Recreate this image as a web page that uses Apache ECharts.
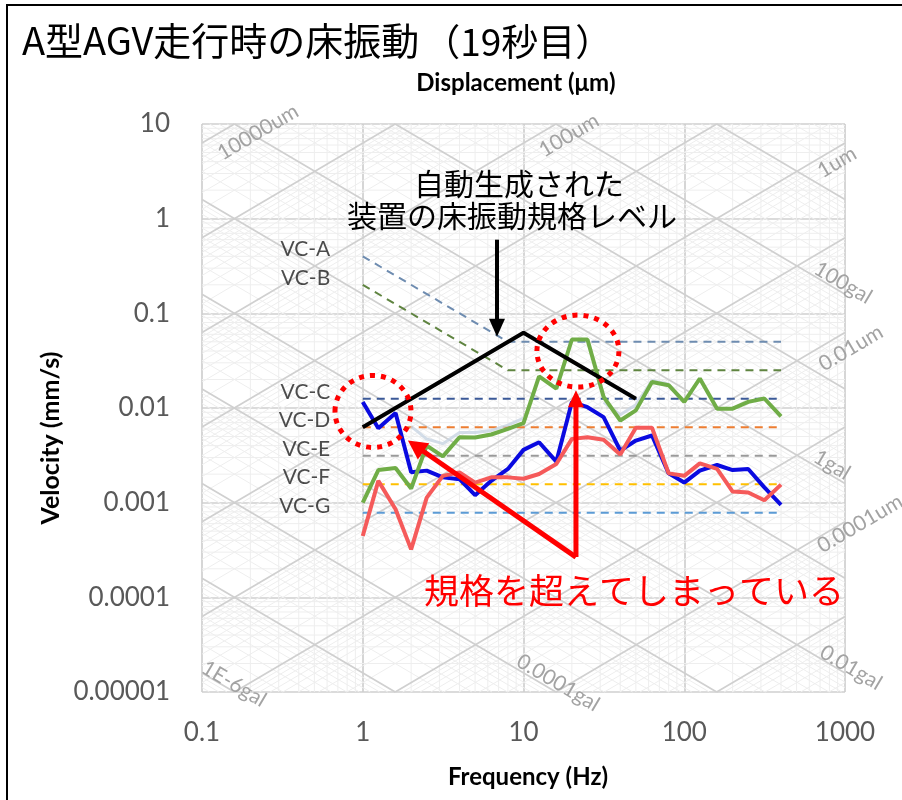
<!DOCTYPE html>
<html>
<head>
<meta charset="utf-8">
<script src="https://cdn.jsdelivr.net/npm/echarts@6/dist/echarts.min.js"></script>
<style>
  html, body { margin: 0; padding: 0; background: #fff; }
  #main { width: 902px; height: 800px; }
</style>
</head>
<body>
<div id="main"></div>
<script>
// 1/3オクターブバンド中心周波数
var freqs = [1, 1.25, 1.6, 2, 2.5, 3.15, 4, 5, 6.3, 8, 10, 12.5, 16, 20, 25, 31.5, 40, 50, 63, 80, 100, 125, 160, 200, 250, 315, 400];
var greenVals = [0.00100, 0.00221, 0.00232, 0.00141, 0.00401, 0.00308, 0.00491, 0.00488, 0.00525, 0.00603, 0.00692, 0.0216, 0.0160, 0.0529, 0.0529, 0.0131, 0.00738, 0.00944, 0.0188, 0.0174, 0.0116, 0.0205, 0.00984, 0.00984, 0.0116, 0.0126, 0.00815];
var blueVals = [0.0116, 0.00612, 0.00883, 0.00209, 0.00218, 0.00185, 0.00177, 0.00120, 0.00170, 0.00227, 0.00361, 0.00435, 0.00271, 0.0116, 0.0102, 0.00800, 0.00355, 0.00453, 0.00512, 0.00204, 0.00163, 0.00218, 0.00250, 0.00221, 0.00227, 0.00145, 0.00095];
var redVals = [0.000445, 0.00170, 0.000853, 0.000321, 0.00113, 0.00192, 0.00209, 0.00163, 0.00185, 0.00185, 0.00179, 0.00201, 0.00256, 0.00472, 0.00491, 0.00461, 0.00322, 0.00618, 0.00618, 0.00204, 0.00192, 0.00260, 0.00227, 0.00131, 0.00128, 0.00106, 0.00155];
var shadowVals = [null, null, null, 0.0064, 0.0047, 0.0042, 0.0055, 0.0055, 0.0058, 0.0066, 0.0078, null, null, null, null, 0.0115, 0.0085, 0.0108, 0.0195, 0.0178, null, null, null, null, null, null, null];

// 自動生成された装置の床振動規格レベル
var specFreqs = [1, 10, 50];
var specVals = [0.00625, 0.0625, 0.0125];

// VC基準線
var vcNames = ['VC-A', 'VC-B', 'VC-C', 'VC-D', 'VC-E', 'VC-F', 'VC-G'];
var vcStartVals = [0.4, 0.2, 0.0125, 0.00625, 0.003125, 0.0015625, 0.00078125];
var vcLevels = [0.05, 0.025, 0.0125, 0.00625, 0.003125, 0.0015625, 0.00078125];
var vcColors = ['#6e8cb0', '#5f8440', '#3b5998', '#ed7d31', '#9a9a9a', '#ffc000', '#5b9bd5'];
var vcKneeFreq = 8;
var vcStartFreq = 1;
var vcEndFreq = 400;

var xTickLabels = ['0.1', '1', '10', '100', '1000'];
var yTickLabels = ['0.00001', '0.0001', '0.001', '0.01', '0.1', '1', '10'];

// 三軸グリッドのラベル (変位 um / 加速度 gal)
var dispLabelTexts = ['10000um', '100um', '1um', '0.01um', '0.0001um'];
var dispLabelAnchors = [[0.223, 8.2], [19.2, 7.6], [891, 3.95], [1089, 0.043], [1240, 0.0006]];
var accLabelTexts = ['100gal', '1gal', '0.01gal', '0.0001gal', '1E-6gal'];
var accLabelAnchors = [[973, 0.21], [830, 0.0025], [1089, 0.0000181], [16.4, 0.0000125], [0.158, 0.0000122]];

var chart = echarts.init(document.getElementById('main'));

var LF_MIN = -1, LF_MAX = 3, LV_MIN = -5, LV_MAX = 1;

/**
 * 三軸グリッド線（変位一定・加速度一定・補助目盛）
 */
function buildGridSegs() {
  var minor = [], major = [];
  var e, m, k;
  for (e = LF_MIN; e < LF_MAX; e++) {
    for (m = 2; m < 10; m++) {
      var f = m * Math.pow(10, e);
      minor.push([f, Math.pow(10, LV_MIN), f, Math.pow(10, LV_MAX), 0]);
    }
  }
  for (e = LV_MIN; e < LV_MAX; e++) {
    for (m = 2; m < 10; m++) {
      var v = m * Math.pow(10, e);
      minor.push([Math.pow(10, LF_MIN), v, Math.pow(10, LF_MAX), v, 0]);
    }
  }
  // 変位一定: v(mm/s) = 2πf・d(um)/1000
  for (k = -7; k <= 5; k++) {
    for (m = 1; m < 10; m++) {
      var d = m * Math.pow(10, k);
      var c = Math.log10(2 * Math.PI * d / 1000);
      var a1 = Math.max(LF_MIN, LV_MIN - c), a2 = Math.min(LF_MAX, LV_MAX - c);
      if (a2 > a1) {
        (m === 1 ? major : minor).push([Math.pow(10, a1), Math.pow(10, a1 + c), Math.pow(10, a2), Math.pow(10, a2 + c), m === 1 ? 1 : 0]);
      }
    }
  }
  // 加速度一定: v(mm/s) = 10・a(gal)/(2πf)
  for (k = -8; k <= 4; k++) {
    for (m = 1; m < 10; m++) {
      var acc = m * Math.pow(10, k);
      var ca = Math.log10(10 * acc / (2 * Math.PI));
      var b1 = Math.max(LF_MIN, ca - LV_MAX), b2 = Math.min(LF_MAX, ca - LV_MIN);
      if (b2 > b1) {
        (m === 1 ? major : minor).push([Math.pow(10, b1), Math.pow(10, ca - b1), Math.pow(10, b2), Math.pow(10, ca - b2), m === 1 ? 1 : 0]);
      }
    }
  }
  return minor.concat(major);
}

function zip(xs, ys) {
  return xs.map(function (x, i) { return [x, ys[i]]; });
}

var series = [];

series.push({
  type: 'custom',
  silent: true,
  z: 1,
  encode: { x: [0, 2], y: [1, 3] },
  data: buildGridSegs(),
  renderItem: function (params, api) {
    var p1 = api.coord([api.value(0), api.value(1)]);
    var p2 = api.coord([api.value(2), api.value(3)]);
    var isMajor = api.value(4) === 1;
    return {
      type: 'line',
      shape: { x1: p1[0], y1: p1[1], x2: p2[0], y2: p2[1] },
      style: { stroke: isMajor ? '#d0d0d0' : '#eeeeee', lineWidth: isMajor ? 1.7 : 1 }
    };
  }
});

var diagTexts = dispLabelTexts.concat(accLabelTexts);
var diagAnchors = dispLabelAnchors.concat(accLabelAnchors);
var diagAngle = Math.atan(94.67 / 160.75);
series.push({
  type: 'custom',
  silent: true,
  clip: false,
  z: 2,
  data: diagAnchors,
  renderItem: function (params, api) {
    var p = api.coord([api.value(0), api.value(1)]);
    var i = params.dataIndex;
    return {
      type: 'text',
      x: p[0],
      y: p[1],
      rotation: i < dispLabelTexts.length ? diagAngle : -diagAngle,
      style: {
        text: diagTexts[i],
        fill: '#a3a3a3',
        fontSize: 21,
        fontFamily: 'Lato',
        align: 'center',
        verticalAlign: 'middle'
      }
    };
  }
});

vcNames.forEach(function (name, i) {
  var pts = [[vcStartFreq, vcStartVals[i]]];
  if (vcStartVals[i] !== vcLevels[i]) pts.push([vcKneeFreq, vcLevels[i]]);
  pts.push([vcEndFreq, vcLevels[i]]);
  series.push({
    name: name,
    type: 'line',
    z: 3,
    symbol: 'none',
    silent: true,
    data: pts,
    lineStyle: { color: vcColors[i], width: 2, type: [8, 6] }
  });
});

series.push({
  type: 'scatter',
  z: 3,
  silent: true,
  symbolSize: 1,
  itemStyle: { color: 'rgba(0,0,0,0)' },
  data: vcNames.map(function (n, i) { return [vcStartFreq, vcStartVals[i]]; }),
  label: {
    show: true,
    position: 'left',
    distance: 32,
    offset: [0, -7],
    color: '#1f1f1f',
    fontSize: 21,
    fontFamily: 'Lato',
    formatter: function (p) { return vcNames[p.dataIndex]; }
  }
});

var lineDefs = [
  { vals: shadowVals, color: 'rgba(200,212,226,0.8)', width: 3 },
  { vals: blueVals, color: '#0a0ae0', width: 4 },
  { vals: redVals, color: '#f55a5a', width: 4 },
  { vals: greenVals, color: '#70ad47', width: 4 }
];
lineDefs.forEach(function (d) {
  series.push({
    type: 'line',
    z: 4,
    symbol: 'none',
    silent: true,
    data: zip(freqs, d.vals),
    lineStyle: { color: d.color, width: d.width }
  });
});

series.push({
  type: 'line',
  z: 5,
  symbol: 'none',
  silent: true,
  data: zip(specFreqs, specVals),
  lineStyle: { color: '#000', width: 4 }
});

chart.setOption({
  animation: false,
  title: {
    text: '{a|A型AGV走行時の床振動}{b|（19秒目）}',
    left: 17,
    top: 5,
    textStyle: {
      fontWeight: 'normal',
      rich: {
        a: { fontSize: 38, fontWeight: 'normal', fontFamily: 'Noto Sans CJK JP', color: '#000', lineHeight: 50, verticalAlign: 'bottom' },
        b: { fontSize: 37, fontWeight: 'normal', fontFamily: 'Noto Sans CJK JP', color: '#000', lineHeight: 50, verticalAlign: 'bottom', padding: [0, 0, 0, 4] }
      }
    }
  },
  grid: { left: 202, right: 57, top: 124, bottom: 108 },
  xAxis: {
    type: 'log',
    logBase: 10,
    min: 0.1,
    max: 1000,
    axisLine: { show: false },
    axisTick: { show: false },
    splitLine: { show: true, lineStyle: { color: '#cfcfcf', width: 1.7 } },
    axisLabel: {
      color: '#595959',
      fontSize: 26,
      fontFamily: 'Lato',
      margin: 28,
      formatter: function (v) { return xTickLabels[Math.round(Math.log10(v)) + 1]; }
    }
  },
  yAxis: {
    type: 'log',
    logBase: 10,
    min: 0.00001,
    max: 10,
    axisLine: { show: false },
    axisTick: { show: false },
    splitLine: { show: true, lineStyle: { color: '#cfcfcf', width: 1.7 } },
    axisLabel: {
      color: '#595959',
      fontSize: 26,
      fontFamily: 'Lato',
      margin: 32,
      formatter: function (v) { return yTickLabels[Math.round(Math.log10(v)) + 5]; }
    }
  },
  series: series
});

// 注記（データ座標を基準に配置）
function px(f, v) {
  return chart.convertToPixel({ gridIndex: 0 }, [f, v]);
}

function arrow(p0, p1, color, width, headLen, headHalf) {
  var dx = p1[0] - p0[0], dy = p1[1] - p0[1];
  var len = Math.sqrt(dx * dx + dy * dy);
  var ux = dx / len, uy = dy / len;
  var bx = p1[0] - ux * headLen, by = p1[1] - uy * headLen;
  return [
    { type: 'line', z: 100, shape: { x1: p0[0], y1: p0[1], x2: bx + ux * 2, y2: by + uy * 2 }, style: { stroke: color, lineWidth: width } },
    { type: 'polygon', z: 100, shape: { points: [[p1[0], p1[1]], [bx - uy * headHalf, by + ux * headHalf], [bx + uy * headHalf, by - ux * headHalf]] }, style: { fill: color } }
  ];
}

var circle1 = px(1.158, 0.0092);
var circle2 = px(21.8, 0.0399);
var blackTop = px(6.84, 0.6);
var blackTip = px(6.84, 0.0565);
var redBase = px(21.2, 0.000266);
var redTipUp = px(21.2, 0.0154);
var redTipLeft = px(1.91, 0.00453);

var graphics = [
  { type: 'rect', z: 100, shape: { x: 7, y: 5, width: 1000, height: 1000 }, style: { fill: null, stroke: '#000', lineWidth: 2 } },
  { type: 'text', z: 100, x: 51, y: 438, rotation: Math.PI / 2, style: { text: 'Velocity (mm/s)', fontSize: 25, fontWeight: 'bold', fontFamily: 'Lato', fill: '#000', align: 'center', verticalAlign: 'middle' } },
  { type: 'text', z: 100, x: 528, y: 777, style: { text: 'Frequency (Hz)', fontSize: 24, fontWeight: 'bold', fontFamily: 'Lato', fill: '#000', align: 'center', verticalAlign: 'middle' } },
  { type: 'text', z: 100, x: 516, y: 83, style: { text: 'Displacement (μm)', fontSize: 24, fontWeight: 'bold', fontFamily: 'Lato', fill: '#000', align: 'center', verticalAlign: 'middle' } },
  { type: 'text', z: 100, x: 519, y: 184, style: { text: '自動生成された', fontSize: 30, fontFamily: 'Noto Sans CJK JP', fill: '#000', align: 'center', verticalAlign: 'middle' } },
  { type: 'text', z: 100, x: 512, y: 216, style: { text: '装置の床振動規格レベル', fontSize: 30, fontFamily: 'Noto Sans CJK JP', fill: '#000', align: 'center', verticalAlign: 'middle' } },
  { type: 'text', z: 100, x: 634, y: 591, style: { text: '規格を超えてしまっている', fontSize: 35, fontFamily: 'Noto Sans CJK JP', fill: '#ff0000', align: 'center', verticalAlign: 'middle' } },
  { type: 'ellipse', z: 100, shape: { cx: circle1[0], cy: circle1[1], rx: 38, ry: 36 }, style: { fill: null, stroke: '#ff0000', lineWidth: 5, lineDash: [5, 6] } },
  { type: 'ellipse', z: 100, shape: { cx: circle2[0], cy: circle2[1], rx: 41, ry: 36 }, style: { fill: null, stroke: '#ff0000', lineWidth: 5, lineDash: [5, 6] } }
];
graphics = graphics
  .concat(arrow(blackTop, blackTip, '#000', 4, 18, 8))
  .concat(arrow(redBase, redTipUp, '#ff0000', 5, 17, 8))
  .concat(arrow(redBase, redTipLeft, '#ff0000', 5, 19, 10));

chart.setOption({ graphic: graphics });
</script>
</body>
</html>
